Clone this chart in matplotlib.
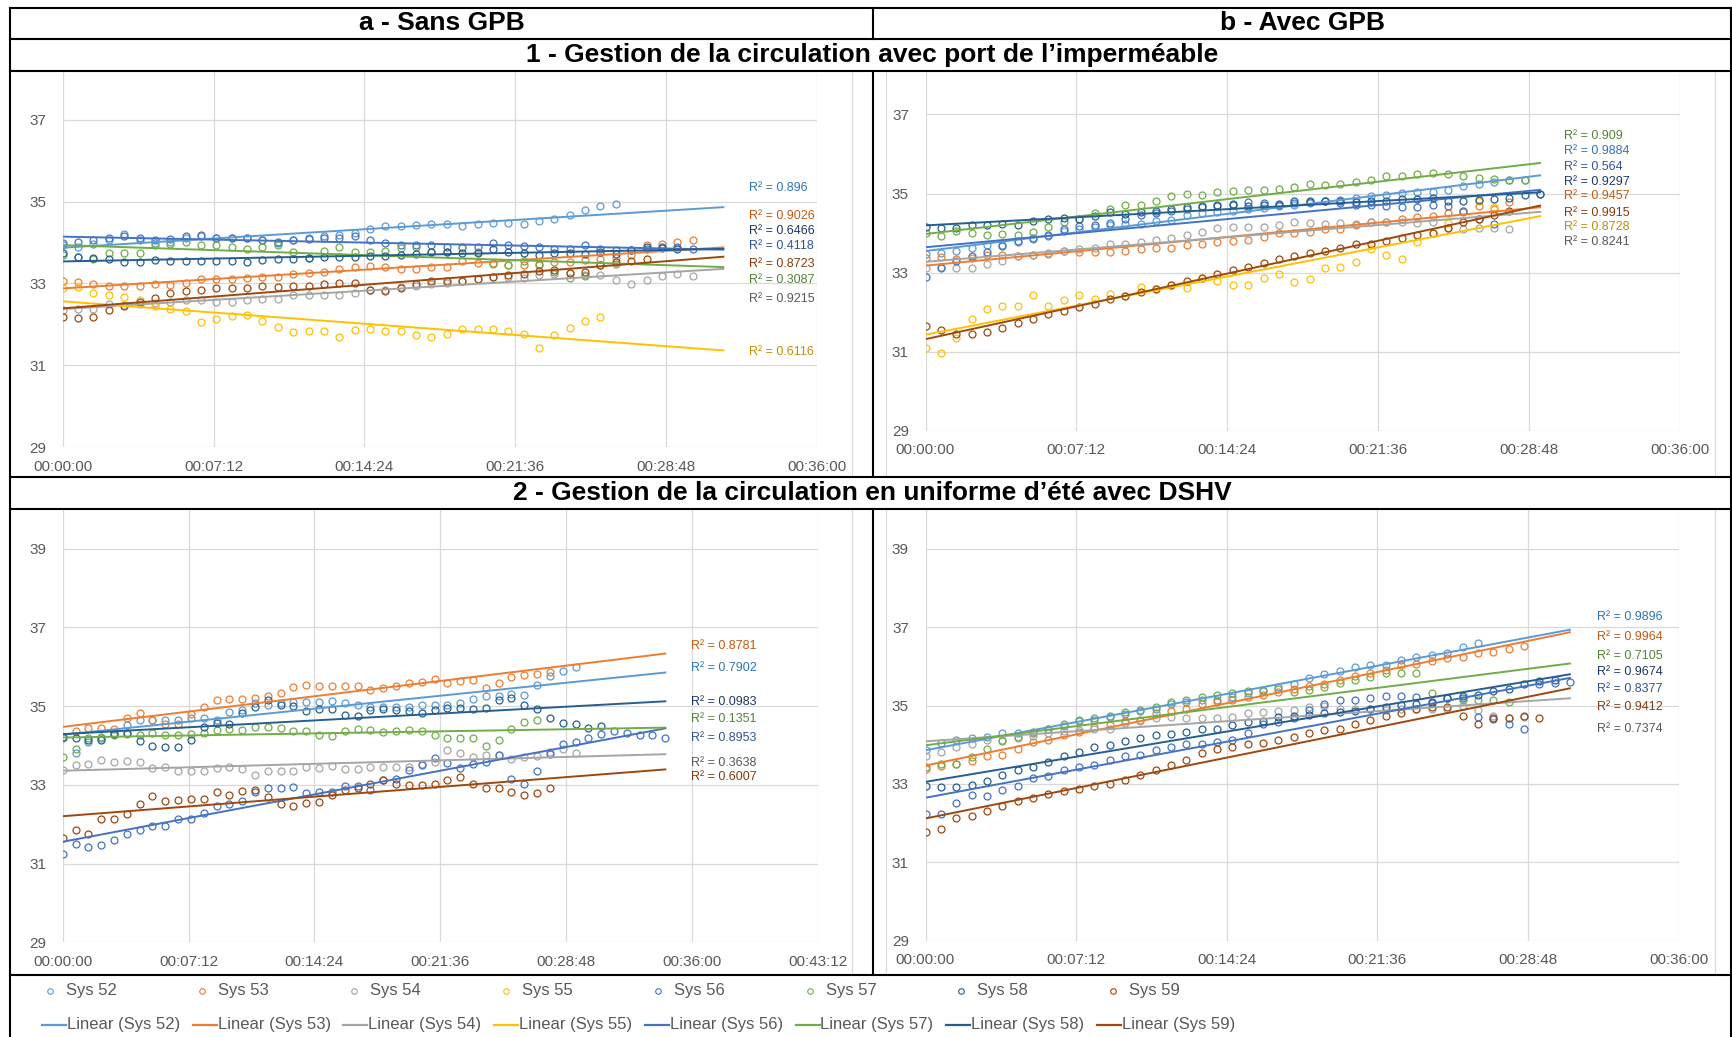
import numpy as np
import matplotlib
matplotlib.use("Agg")
import matplotlib.pyplot as plt
from matplotlib.lines import Line2D
from matplotlib.ticker import FuncFormatter, MultipleLocator

plt.rcParams['font.family'] = ['Liberation Sans', 'DejaVu Sans']

nan = np.nan
step_s = 44  # seconds between two readings

names = ["Sys 52", "Sys 53", "Sys 54", "Sys 55", "Sys 56", "Sys 57", "Sys 58", "Sys 59"]
colors = ["#5B9BD5", "#ED7D31", "#A5A5A5", "#FFC000", "#4472C4", "#70AD47", "#255E91", "#9E480E"]
r2_colors = ["#2E75B6", "#C55A11", "#595959", "#BF9000", "#2F5597", "#548235", "#1F3864", "#843C0C"]

# ---- 1a : sans GPB, impermeable
a1_52 = [33.95, 33.9, 33.97, 34.05, 34.2, 34.05, 34.0, 34.02, 34.12, 34.15, 34.1, 34.1, 34.12, 34.05, 34.0,
         34.05, 34.1, 34.15, 34.18, 34.22, 34.33, 34.4, 34.4, 34.42, 34.45, 34.46, 34.4, 34.45, 34.48, 34.48,
         34.46, 34.52, 34.58, 34.68, 34.8, 34.88, 34.93]
a1_53 = [33.06, 33.03, 32.99, 32.95, 32.93, 32.95, 32.98, 32.97, 33.02, 33.11, 33.11, 33.11, 33.13, 33.15, 33.15,
         33.22, 33.26, 33.28, 33.36, 33.4, 33.42, 33.41, 33.36, 33.36, 33.4, 33.4, 33.54, 33.51, 33.51, 33.46,
         33.46, 33.48, 33.52, 33.52, 33.58, 33.6, 33.62, 33.7, 33.93, 33.97, 34.01, 34.06]
a1_54 = [32.34, 32.37, 32.37, 32.5, 32.48, 32.5, 32.53, 32.54, 32.59, 32.59, 32.55, 32.55, 32.59, 32.61, 32.63,
         32.71, 32.71, 32.71, 32.72, 32.77, 32.83, 32.85, 32.91, 32.95, 32.99, 33.02, 33.07, 33.1, 33.15, 33.16,
         33.13, 33.2, 33.24, 33.26, 33.2, 33.2, 33.09, 32.99, 33.09, 33.18, 33.23, 33.18]
a1_55 = [32.89, 32.91, 32.76, 32.71, 32.68, 32.59, 32.46, 32.37, 32.33, 32.07, 32.13, 32.2, 32.22, 32.08, 31.93,
         31.81, 31.83, 31.84, 31.69, 31.87, 31.89, 31.83, 31.84, 31.75, 31.69, 31.76, 31.88, 31.89, 31.89, 31.85,
         31.77, 31.42, 31.73, 31.92, 32.08, 32.18]
a1_56 = [34.0, 34.02, 34.05, 34.1, 34.15, 34.1, 34.05, 34.08, 34.15, 34.18, 34.12, 34.12, 34.1, 34.05, 34.02,
         34.05, 34.08, 34.1, 34.12, 34.15, 34.05, 33.98, 33.95, 33.95, 33.93, 33.9, 33.88, 33.9, 33.98, 33.95,
         33.92, 33.9, 33.85, 33.85, 33.93, 33.85, 33.82, 33.82, 33.85, 33.88, 33.88, 33.85]
a1_57 = [33.7, 33.64, 33.6, 33.75, 33.75, 33.75, 33.94, 33.97, 34.02, 33.93, 33.95, 33.89, 33.85, 33.89, 33.93,
         33.76, 33.62, 33.8, 33.88, 33.78, 33.76, 33.8, 33.86, 33.88, 33.76, 33.78, 33.86, 33.76, 33.48, 33.46,
         33.56, 33.46, 33.28, 33.14, 33.18, 33.44, 33.48]
a1_58 = [33.75, 33.65, 33.63, 33.6, 33.52, 33.53, 33.57, 33.55, 33.55, 33.55, 33.55, 33.55, 33.53, 33.57, 33.59,
         33.59, 33.63, 33.65, 33.65, 33.65, 33.67, 33.67, 33.7, 33.73, 33.77, 33.77, 33.75, 33.75, 33.85, 33.77,
         33.75, 33.69, 33.75, 33.75, 33.73, 33.77, 33.73, 33.81, 33.9, 33.87, 33.85]
a1_59 = [32.18, 32.15, 32.18, 32.34, 32.45, 32.54, 32.65, 32.76, 32.82, 32.85, 32.89, 32.89, 32.89, 32.93, 32.91,
         32.93, 32.93, 32.98, 33.02, 33.02, 32.85, 32.82, 32.89, 32.99, 33.05, 33.07, 33.07, 33.11, 33.15, 33.21,
         33.24, 33.3, 33.33, 33.25, 33.29, 33.44, 33.52, 33.54, 33.59]
a1_r2 = ["0.896", "0.9026", "0.6466", "0.4118", "0.8723", "0.3087", "0.9215", "0.6116"]
a1_r2_sys = [0, 1, 6, 4, 7, 5, 2, 3]

# ---- 1b : avec GPB, impermeable
b1_52 = [33.48, 33.5, 33.54, 33.63, 33.71, 33.7, 33.77, 33.86, 33.94, 34.05, 34.1, 34.15, 34.2, 34.22, 34.22,
         34.3, 34.34, 34.45, 34.5, 34.53, 34.55, 34.61, 34.64, 34.68, 34.72, 34.76, 34.8, 34.85, 34.89, 34.93,
         34.97, 35.02, 35.04, 35.05, 35.1, 35.19, 35.23, 35.3, 35.35, 35.35]
b1_53 = [33.36, 33.4, 33.34, 33.36, 33.46, 33.44, 33.42, 33.46, 33.48, 33.55, 33.53, 33.53, 33.53, 33.55, 33.61,
         33.63, 33.63, 33.69, 33.72, 33.78, 33.8, 33.82, 33.9, 34.0, 34.0, 34.03, 34.1, 34.1, 34.2, 34.27,
         34.29, 34.35, 34.42, 34.43, 34.52, 34.54, 34.69, 34.6, 34.79]
b1_54 = [33.11, 33.15, 33.13, 33.13, 33.23, 33.3, 33.42, 33.45, 33.51, 33.55, 33.59, 33.63, 33.72, 33.73, 33.78,
         33.82, 33.89, 33.95, 34.04, 34.14, 34.16, 34.16, 34.16, 34.21, 34.27, 34.25, 34.22, 34.25, 34.22, 34.27,
         34.28, 34.27, 34.25, 34.27, 34.14, 34.11, 34.14, 34.14, 34.11]
b1_55 = [31.1, 30.96, 31.35, 31.82, 32.09, 32.16, 32.16, 32.43, 32.16, 32.31, 32.43, 32.34, 32.45, 32.41, 32.64,
         32.6, 32.7, 32.62, 32.87, 32.79, 32.69, 32.68, 32.87, 32.96, 32.76, 32.83, 33.11, 33.15, 33.27, 33.59,
         33.44, 33.34, 33.78, 34.01, 34.25, 34.55, 34.8, 34.65]
b1_56 = [32.9, 33.11, 33.3, 33.42, 33.52, 33.68, 33.8, 33.89, 33.95, 34.1, 34.18, 34.2, 34.25, 34.35, 34.45,
         34.5, 34.55, 34.6, 34.65, 34.68, 34.72, 34.78, 34.75, 34.72, 34.75, 34.78, 34.8, 34.75, 34.72, 34.7,
         34.68, 34.65, 34.65, 34.7, 34.69, 34.56, 34.35, 34.22, nan, nan, 34.98]
b1_57 = [34.0, 33.93, 34.05, 34.01, 33.95, 33.99, 33.95, 34.04, 34.16, 34.28, 34.37, 34.51, 34.61, 34.71, 34.71,
         34.81, 34.93, 34.99, 34.97, 35.03, 35.06, 35.08, 35.1, 35.12, 35.17, 35.23, 35.21, 35.24, 35.29, 35.34,
         35.45, 35.45, 35.49, 35.52, 35.49, 35.44, 35.4, 35.38, 35.34, 35.34]
b1_58 = [34.16, 34.12, 34.14, 34.21, 34.21, 34.22, 34.21, 34.3, 34.35, 34.38, 34.37, 34.43, 34.54, 34.48, 34.54,
         34.56, 34.6, 34.65, 34.69, 34.7, 34.73, 34.69, 34.7, 34.73, 34.81, 34.81, 34.81, 34.82, 34.79, 34.8,
         34.81, 34.86, 34.87, 34.9, 34.81, 34.81, 34.84, 34.86, 34.9, 34.96, 34.98]
b1_59 = [31.65, 31.55, 31.44, 31.44, 31.5, 31.61, 31.72, 31.84, 31.95, 32.03, 32.14, 32.22, 32.34, 32.41, 32.51,
         32.6, 32.7, 32.79, 32.87, 32.96, 33.07, 33.15, 33.25, 33.35, 33.42, 33.51, 33.55, 33.63, 33.72, 33.73,
         33.8, 33.87, 33.95, 34.01, 34.14, 34.29, 34.35, 34.45, 34.55]
b1_r2 = ["0.909", "0.9884", "0.564", "0.9297", "0.9457", "0.9915", "0.8728", "0.8241"]
b1_r2_sys = [5, 0, 4, 6, 1, 7, 3, 2]

# ---- 2a : sans GPB, uniforme d'ete
a2_52 = [34.2, 33.81, 34.09, 34.2, 34.32, 34.51, 34.64, 34.66, 34.66, 34.66, 34.69, 34.69, 34.66, 34.85, 34.91,
         35.09, 35.02, 35.09, 35.1, 35.11, 35.1, 35.13, 35.09, 35.03, 34.97, 34.97, 34.97, 34.99, 35.02, 35.02,
         35.04, 35.07, 35.17, 35.26, 35.27, 35.3, 35.28, 35.55, 35.77, 35.89, 36.0]
a2_53 = [34.22, 34.36, 34.45, 34.45, 34.41, 34.69, 34.83, 34.66, 34.54, 34.54, 34.81, 34.97, 35.15, 35.18, 35.18,
         35.22, 35.25, 35.34, 35.49, 35.53, 35.52, 35.52, 35.52, 35.52, 35.42, 35.47, 35.52, 35.58, 35.62, 35.68,
         35.59, 35.64, 35.66, 35.47, 35.59, 35.75, 35.8, 35.83, 35.87]
a2_54 = [33.39, 33.5, 33.54, 33.63, 33.58, 33.6, 33.57, 33.42, 33.46, 33.36, 33.36, 33.36, 33.42, 33.46, 33.4,
         33.25, 33.36, 33.36, 33.36, 33.46, 33.44, 33.48, 33.4, 33.4, 33.46, 33.46, 33.46, 33.46, 33.52, 33.57,
         33.88, 33.81, 33.71, 33.75, 33.75, 33.67, 33.71, 33.73, 33.84, 33.92, 33.81]
a2_55 = []
a2_56 = [31.25, 31.51, 31.42, 31.47, 31.59, 31.76, 31.85, 31.95, 31.95, 32.14, 32.14, 32.29, 32.46, 32.51, 32.59,
         32.82, 32.91, 32.91, 32.95, 32.8, 32.82, 32.82, 32.97, 32.98, 32.88, 33.12, 33.14, 33.37, 33.5, 33.69,
         33.56, 33.44, 33.52, 33.58, 33.75, 33.14, 33.03, 33.36, 33.78, 34.05, 34.1, 34.2, 34.3, 34.37, 34.31,
         34.26, 34.26, 34.2]
a2_57 = [33.71, 33.92, 34.2, 34.22, 34.26, 34.3, 34.26, 34.33, 34.28, 34.26, 34.3, 34.31, 34.39, 34.43, 34.39,
         34.47, 34.47, 34.45, 34.36, 34.36, 34.28, 34.25, 34.36, 34.41, 34.39, 34.35, 34.36, 34.39, 34.37, 34.26,
         34.19, 34.19, 34.2, 33.98, 34.15, 34.42, 34.6, 34.66]
a2_58 = [34.22, 34.2, 34.15, 34.15, 34.3, 34.32, 34.12, 33.98, 33.95, 33.95, 34.15, 34.47, 34.56, 34.55, 34.83,
         34.98, 35.15, 35.03, 35.0, 34.87, 34.92, 34.92, 34.77, 34.75, 34.9, 34.92, 34.9, 34.88, 34.83, 34.9,
         34.96, 34.96, 34.92, 34.96, 35.15, 35.2, 35.03, 34.92, 34.7, 34.58, 34.54, 34.45, 34.49]
a2_59 = [31.64, 31.85, 31.76, 32.13, 32.14, 32.25, 32.51, 32.71, 32.58, 32.61, 32.65, 32.63, 32.82, 32.74, 32.85,
         32.86, 32.69, 32.51, 32.46, 32.54, 32.57, 32.74, 32.86, 32.93, 33.02, 33.12, 33.02, 33.0, 33.0, 33.02,
         33.12, 33.19, 33.02, 32.91, 32.93, 32.82, 32.75, 32.8, 32.93]
a2_r2 = ["0.8781", "0.7902", "0.0983", "0.1351", "0.8953", "0.3638", "0.6007"]
a2_r2_sys = [1, 0, 6, 5, 4, 2, 7]

# ---- 2b : avec GPB, uniforme d'ete
b2_52 = [33.86, 34.05, 34.13, 34.16, 34.2, 34.29, 34.29, 34.3, 34.39, 34.47, 34.61, 34.63, 34.71, 34.78, 34.86,
         34.9, 35.05, 35.09, 35.14, 35.15, 35.22, 35.32, 35.37, 35.46, 35.54, 35.69, 35.8, 35.88, 35.99, 36.04,
         36.04, 36.16, 36.24, 36.28, 36.34, 36.5, 36.6]
b2_53 = [33.39, 33.46, 33.52, 33.59, 33.71, 33.73, 33.9, 34.06, 34.12, 34.24, 34.33, 34.46, 34.5, 34.61, 34.63,
         34.8, 34.86, 34.92, 35.03, 35.09, 35.15, 35.22, 35.26, 35.35, 35.43, 35.49, 35.56, 35.65, 35.75, 35.83,
         35.9, 36.03, 36.07, 36.14, 36.2, 36.24, 36.33, 36.37, 36.45, 36.51]
b2_54 = [33.71, 33.82, 33.95, 34.03, 34.12, 34.13, 34.18, 34.22, 34.29, 34.35, 34.37, 34.39, 34.41, 34.56, 34.61,
         34.67, 34.71, 34.67, 34.67, 34.69, 34.71, 34.8, 34.84, 34.86, 34.88, 34.95, 34.98, 34.92, 34.9, 34.92,
         34.88, 34.92, 34.92, 34.92, 34.92, 34.98, 34.88, 34.73, 34.67, 34.71]
b2_55 = []
b2_56 = [32.23, 32.23, 32.52, 32.71, 32.69, 32.84, 32.94, 33.14, 33.2, 33.35, 33.42, 33.48, 33.61, 33.71, 33.73,
         33.86, 33.93, 34.01, 34.03, 34.07, 34.13, 34.3, 34.54, 34.58, 34.69, 34.88, 35.05, 35.15, 35.15, 35.2,
         35.24, 35.24, 35.22, 35.07, 35.18, 35.2, 34.7, 34.66, 34.53, 34.4, 35.55, 35.58, 35.6]
b2_57 = [33.44, 33.52, 33.52, 33.69, 33.9, 34.09, 34.2, 34.33, 34.39, 34.52, 34.63, 34.67, 34.73, 34.84, 34.88,
         34.97, 35.09, 35.15, 35.22, 35.28, 35.32, 35.37, 35.39, 35.43, 35.35, 35.39, 35.48, 35.58, 35.65, 35.73,
         35.82, 35.83, 35.82, 35.31, 35.18, 35.14, 35.15, 35.15, 35.09]
b2_58 = [32.94, 32.91, 32.91, 32.97, 33.08, 33.22, 33.35, 33.44, 33.55, 33.71, 33.82, 33.93, 33.99, 34.1, 34.16,
         34.24, 34.27, 34.33, 34.41, 34.41, 34.5, 34.58, 34.61, 34.71, 34.73, 34.75, 34.81, 34.84, 34.86, 34.9,
         34.95, 35.01, 35.05, 35.09, 35.18, 35.24, 35.28, 35.37, 35.43, 35.54, 35.62, 35.65]
b2_59 = [31.78, 31.86, 32.12, 32.19, 32.31, 32.44, 32.57, 32.64, 32.74, 32.81, 32.88, 32.94, 33.01, 33.1, 33.22,
         33.35, 33.48, 33.62, 33.78, 33.88, 33.95, 34.01, 34.05, 34.13, 34.2, 34.29, 34.37, 34.41, 34.52, 34.63,
         34.73, 34.8, 34.9, 34.97, 34.95, 34.73, 34.54, 34.67, 34.67, 34.73, 34.69]
b2_r2 = ["0.9896", "0.9964", "0.7105", "0.9674", "0.8377", "0.9412", "0.7374"]
b2_r2_sys = [0, 1, 5, 6, 4, 7, 2]

W, H = 1732, 1037
fig = plt.figure(figsize=(W / 100, H / 100), dpi=100)


def fx(x):
    return x / W


def fy(y):
    return 1 - y / H


def hline(y, x0, x1, color="black", lw=1.5):
    fig.add_artist(Line2D([fx(x0), fx(x1)], [fy(y), fy(y)], transform=fig.transFigure, color=color, lw=lw))


def vline(x, y0, y1, color="black", lw=1.5):
    fig.add_artist(Line2D([fx(x), fx(x)], [fy(y0), fy(y1)], transform=fig.transFigure, color=color, lw=lw))


def hms(v, pos):
    s = int(round(v))
    return "%02d:%02d:%02d" % (s // 3600, s % 3600 // 60, s % 60)


panels = [
    dict(series=[a1_52, a1_53, a1_54, a1_55, a1_56, a1_57, a1_58, a1_59], n=44, xmax=2160, ymax=38.17,
         box=(62.7, 816.9, 71.7, 447.3), r2=a1_r2, r2_sys=a1_r2_sys, r2_x=749,
         r2_y=[187.7, 215.7, 230.7, 246, 264, 280, 299.3, 352.3]),
    dict(series=[b1_52, b1_53, b1_54, b1_55, b1_56, b1_57, b1_58, b1_59], n=41, xmax=2160, ymax=38.08,
         box=(925.5, 1679.8, 71.7, 431), r2=b1_r2, r2_sys=b1_r2_sys, r2_x=1564,
         r2_y=[135.7, 150.7, 166.7, 182.3, 195.7, 212.7, 226.7, 241.7]),
    dict(series=[a2_52, a2_53, a2_54, a2_55, a2_56, a2_57, a2_58, a2_59], n=48, xmax=2592, ymax=40,
         box=(62.7, 818, 509.4, 942.3), r2=a2_r2, r2_sys=a2_r2_sys, r2_x=691,
         r2_y=[645.7, 668.3, 701.7, 719.3, 738.3, 762.7, 777.3]),
    dict(series=[b2_52, b2_53, b2_54, b2_55, b2_56, b2_57, b2_58, b2_59], n=43, xmax=2160, ymax=40,
         box=(925.5, 1678.7, 509.5, 940.7), r2=b2_r2, r2_sys=b2_r2_sys, r2_x=1597,
         r2_y=[616.7, 636.7, 655.7, 671.7, 688.7, 706.7, 728.7]),
]

for p in panels:
    l, r, t_, b = p["box"]
    ax = fig.add_axes([fx(l), fy(b), fx(r - l), (b - t_) / H])
    t = np.arange(p["n"]) * step_s
    fits = []
    for k, ys in enumerate(p["series"]):
        if len(ys) == 0:
            fits.append(None)
            continue
        y = np.array(ys + [nan] * (p["n"] - len(ys)), dtype=float)
        ax.plot(t, y, "o", ms=5, mfc="none", mec=colors[k], mew=0.9, zorder=3)
        ok = ~np.isnan(y)
        fits.append(np.polyfit(t[ok], y[ok], 1))
    for k, c in enumerate(fits):
        if c is None:
            continue
        ends = np.array([t[0], t[-1]])
        ax.plot(ends, np.polyval(c, ends), color=colors[k], lw=1.4, zorder=4)
    ax.set_xlim(0, p["xmax"])
    ax.set_ylim(29, p["ymax"])
    ax.xaxis.set_major_locator(MultipleLocator(432))
    ax.xaxis.set_major_formatter(FuncFormatter(hms))
    ax.set_yticks(np.arange(29, p["ymax"], 2))
    ax.grid(True, color="#D9D9D9", lw=0.9)
    ax.set_axisbelow(True)
    for s in ax.spines.values():
        s.set_visible(False)
    ax.tick_params(axis="both", length=0, colors="#595959", labelsize=11)
    ax.tick_params(axis="x", pad=9)
    ax.tick_params(axis="y", pad=12)
    for txt, k, yy in zip(p["r2"], p["r2_sys"], p["r2_y"]):
        fig.text(fx(p["r2_x"]), fy(yy), "R² = " + txt, color=r2_colors[k], fontsize=9, va="center", ha="left")

# chart area borders (light grey)
for x in (852, 886, 1715):
    vline(x, 71, 477, color="#D9D9D9", lw=0.8)
    vline(x, 509, 975, color="#D9D9D9", lw=0.8)

# table grid
hline(8, 10, 1732)
hline(39, 10, 1732)
hline(71, 10, 1732)
hline(477, 10, 1732)
hline(509, 10, 1732)
hline(975, 10, 1732)
vline(10, 8, 1037)
vline(1731, 8, 1037)
vline(873, 8, 39)
vline(873, 71, 477)
vline(873, 509, 975)

fig.text(fx(441.5), fy(23), "a - Sans GPB", ha="center", va="center", fontsize=19, fontweight="bold")
fig.text(fx(1302.5), fy(23), "b - Avec GPB", ha="center", va="center", fontsize=19, fontweight="bold")
fig.text(fx(872), fy(55), "1 - Gestion de la circulation avec port de l’imperméable",
         ha="center", va="center", fontsize=19, fontweight="bold")
fig.text(fx(872), fy(493), "2 - Gestion de la circulation en uniforme d’été avec DSHV",
         ha="center", va="center", fontsize=19, fontweight="bold")

# legend
for k, name in enumerate(names):
    mx = 50 + 151.9 * k
    fig.add_artist(Line2D([fx(mx)], [fy(991)], transform=fig.transFigure, marker="o", ms=4,
                          mfc="none", mec=colors[k], mew=0.8, ls="none"))
    fig.text(fx(mx + 16), fy(991), name, color="#595959", fontsize=12, va="center", ha="left")
    lx = 42 + 150.7 * k
    fig.add_artist(Line2D([fx(lx), fx(lx + 24)], [fy(1025), fy(1025)], transform=fig.transFigure,
                          color=colors[k], lw=1.6))
    fig.text(fx(lx + 25), fy(1025), "Linear (%s)" % name, color="#595959", fontsize=12,
             va="center", ha="left")

fig.savefig("out.png", dpi=100)
